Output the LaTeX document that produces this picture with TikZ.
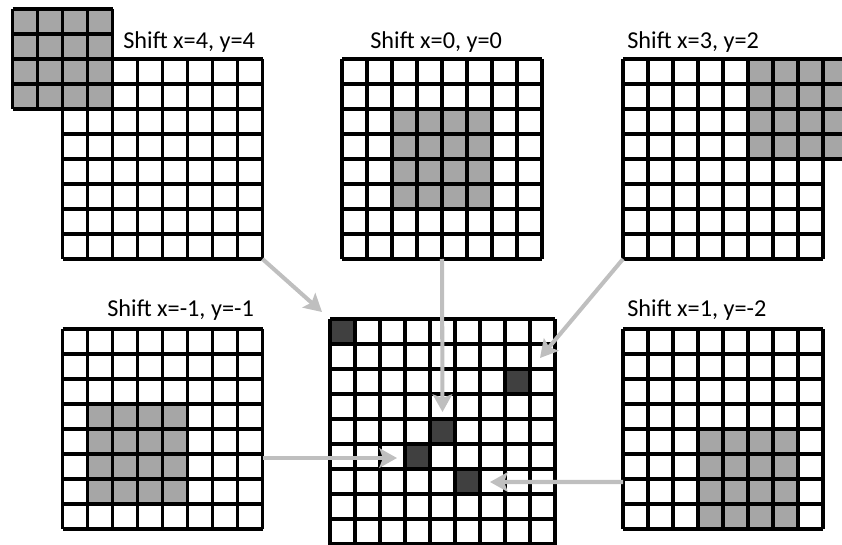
\documentclass[tikz,border=0pt]{standalone}
\usepackage{fontspec}
\setmainfont{Carlito}
\usetikzlibrary{arrows.meta, calc}
\definecolor{cellgray}{RGB}{166,166,166}
\definecolor{celldark}{RGB}{64,64,64}
\definecolor{arrowgray}{RGB}{191,191,191}

\begin{document}
\begin{tikzpicture}[x=0.5cm, y=0.5cm,
  gridline/.style={line width=1.9pt, black, step=0.5cm},
  shiftlabel/.style={anchor=base west, inner sep=0pt, font=\fontsize{13.8}{16}\selectfont},
  moveto/.style={line width=2.3pt, arrowgray, -{Stealth[length=10pt, width=11pt, inset=2pt]}}]
  \useasboundingbox (0,0) rectangle (33.68,21.76);
  \clip (0,0) rectangle (33.68,21.76);

  % top left
  \begin{scope}[shift={(2.5,11.4)}]
    \fill[cellgray] (-2,6) rectangle (2,10);
    \draw[gridline] (0,0) grid (8,8);
    \draw[gridline] (-2,6) grid (2,10);
    \coordinate (from44) at (8,0);
  \end{scope}
  \node[shiftlabel] (lab44) at (4.92,19.8) {Shift x=4, y=4};

  % top middle
  \begin{scope}[shift={(13.68,11.4)}]
    \fill[cellgray] (2,2) rectangle (6,6);
    \draw[gridline] (0,0) grid (8,8);
    \coordinate (from00) at (4,0);
  \end{scope}
  \node[shiftlabel] (lab00) at (14.8,19.8) {Shift x=0, y=0};

  % top right
  \begin{scope}[shift={(24.92,11.4)}]
    \fill[cellgray] (5,4) rectangle (9,8);
    \draw[gridline] (0,0) grid (8,8);
    \draw[gridline] (5,4) grid (9,8);
    \coordinate (from32) at (0,0);
  \end{scope}
  \node[shiftlabel] (lab32) at (25.08,19.8) {Shift x=3, y=2};

  % bottom left
  \begin{scope}[shift={(2.5,0.6)}]
    \fill[cellgray] (1,1) rectangle (5,5);
    \draw[gridline] (0,0) grid (8,8);
    \coordinate (fromm1m1) at (8,2.84);
  \end{scope}
  \node[shiftlabel] (labm1m1) at (4.28,9.1) {Shift x=-1, y=-1};

  % bottom right
  \begin{scope}[shift={(24.92,0.6)}]
    \fill[cellgray] (3,0) rectangle (7,4);
    \draw[gridline] (0,0) grid (8,8);
    \coordinate (from1m2) at (0,1.88);
  \end{scope}
  \node[shiftlabel] (lab1m2) at (25.08,9.1) {Shift x=1, y=-2};

  % result
  \begin{scope}[shift={(13.2,0)}]
    \fill[celldark] (0,8) rectangle (1,9);
    \fill[celldark] (7,6) rectangle (8,7);
    \fill[celldark] (4,4) rectangle (5,5);
    \fill[celldark] (3,3) rectangle (4,4);
    \fill[celldark] (5,2) rectangle (6,3);
    \draw[gridline] (0,-1) grid (9,9);
    \coordinate (to44) at (-0.32,9.28);
    \coordinate (to00) at (4.5,5.28);
    \coordinate (to32) at (8.4,7.44);
    \coordinate (tom1m1) at (2.68,3.44);
    \coordinate (to1m2) at (6.4,2.48);
  \end{scope}

  \draw[moveto] (from44) -- (to44);
  \draw[moveto] (from00) -- (to00);
  \draw[moveto] (from32) -- (to32);
  \draw[moveto] (fromm1m1) -- (tom1m1);
  \draw[moveto] (from1m2) -- (to1m2);
\end{tikzpicture}
\end{document}
